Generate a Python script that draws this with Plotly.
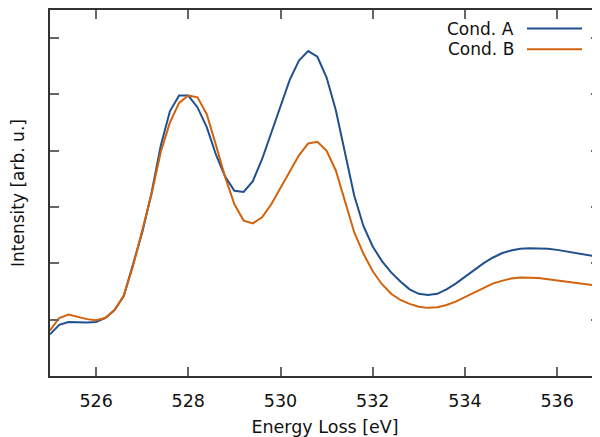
import plotly.graph_objects as go

energy = [round(525.0 + 0.2 * i, 1) for i in range(61)]

cond_a = [0.74, 0.91, 0.96, 0.95, 0.95, 0.96, 1.03, 1.17, 1.42, 1.98,
          2.55, 3.24, 4.08, 4.70, 4.98, 4.98, 4.77, 4.42, 3.93, 3.54,
          3.29, 3.27, 3.46, 3.85, 4.31, 4.79, 5.26, 5.60, 5.77, 5.67,
          5.30, 4.72, 3.95, 3.20, 2.66, 2.30, 2.04, 1.84, 1.68, 1.54,
          1.46, 1.44, 1.46, 1.54, 1.64, 1.76, 1.88, 2.00, 2.10, 2.18,
          2.23, 2.26, 2.27, 2.27, 2.26, 2.24, 2.21, 2.18, 2.15, 2.12,
          2.10]

cond_b = [0.81, 1.03, 1.09, 1.05, 1.01, 0.99, 1.03, 1.17, 1.43, 1.95,
          2.58, 3.22, 3.97, 4.50, 4.85, 4.98, 4.95, 4.65, 4.10, 3.53,
          3.05, 2.76, 2.71, 2.82, 3.05, 3.34, 3.64, 3.92, 4.13, 4.16,
          4.00, 3.65, 3.10, 2.55, 2.17, 1.86, 1.63, 1.46, 1.35, 1.28,
          1.23, 1.21, 1.22, 1.26, 1.32, 1.40, 1.49, 1.57, 1.64, 1.69,
          1.73, 1.75, 1.75, 1.74, 1.72, 1.70, 1.68, 1.65, 1.63, 1.61,
          1.59]

series_names = ["Cond. A", "Cond. B"]
x_ticks = [526, 528, 530, 532, 534, 536]
y_ticks = [1, 2, 3, 4, 5, 6]

colors = ["#22508f", "#d2620c"]
FONT = "DejaVu Sans"

# page offset from the default body margin
OFF = 8
W, H = 600 - OFF, 437 - OFF
# plot area in page pixels
L, R, T, B = 50, 600, 10, 376

fig = go.Figure()
for name, vals, col in zip(series_names, [cond_a, cond_b], colors):
    fig.add_trace(go.Scatter(x=energy, y=vals, mode="lines", name=name,
                             line=dict(color=col, width=2), showlegend=False))

def px(x):
    return (x - L) / (R - L)
def py(y):
    return (B - y) / (B - T)

# gnuplot-style legend: text on the left, sample line on the right
for i, (name, col) in enumerate(zip(series_names, colors)):
    yy = 28.6 + 20.7 * i
    fig.add_annotation(text=name, xref="paper", yref="paper", x=px(516), y=py(yy),
                       xanchor="right", yanchor="middle", showarrow=False,
                       font=dict(family=FONT, size=17, color="#111"))
    fig.add_shape(type="line", xref="paper", yref="paper",
                  x0=px(527), x1=px(582), y0=py(yy), y1=py(yy),
                  line=dict(color=col, width=2))

fig.update_xaxes(range=[525, 536.93], tickvals=x_ticks, ticks="inside", ticklen=9,
                 tickcolor="#666", tickwidth=1.5, showline=True, linecolor="#333",
                 linewidth=1.5, mirror="ticks", showgrid=False, zeroline=False,
                 automargin=False, ticklabelstandoff=8,
                 tickfont=dict(family=FONT, size=17.5, color="#111"),
                 title=dict(text="Energy Loss [eV]", font=dict(family=FONT, size=17.5, color="#111"),
                            standoff=12))
fig.update_yaxes(range=[0, 6.5], tickvals=y_ticks, ticks="inside", ticklen=9,
                 tickcolor="#666", tickwidth=1.5, showline=True, linecolor="#333",
                 linewidth=1.5, mirror="ticks", showgrid=False, zeroline=False,
                 showticklabels=False, automargin=False,
                 title=dict(text="Intensity [arb. u.]", font=dict(family=FONT, size=17, color="#111"),
                            standoff=20))

fig.update_layout(width=W, height=H,
                  margin=dict(l=L - OFF, r=600 - R, t=T - OFF, b=437 - B, autoexpand=False),
                  plot_bgcolor="white", paper_bgcolor="white",
                  font=dict(family=FONT))

fig.write_html("out.html")
